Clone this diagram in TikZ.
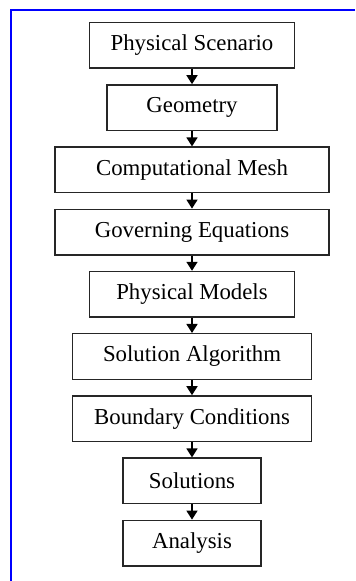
\documentclass[tikz,border=0pt]{standalone}
\usepackage{fontspec}
\setmainfont{Liberation Serif}
\usetikzlibrary{arrows.meta, positioning}

\begin{document}
\begin{tikzpicture}[
    node distance=7.6pt,
    every node/.style={font=\fontsize{11.4}{13}\selectfont},
    box/.style={rectangle, draw=black!85, line width=0.75pt,
                minimum height=22.75pt, inner sep=0pt, text centered},
    arr/.style={-{Triangle[width=5.5pt, length=4.5pt]}, line width=0.8pt},
]
\useasboundingbox (0,0) rectangle (177.5pt,-290.5pt);

% blue frame
\draw[blue, line width=1.1pt] (177.5pt,-5pt) -- (5.5pt,-5pt) -- (5.5pt,-290.5pt);

\node[box, minimum width=102.5pt] (scenario) at (96pt,-22.75pt) {Physical Scenario};
\node[box, minimum width=85pt, below=of scenario] (geometry) {Geometry};
\node[box, minimum width=137pt, below=of geometry] (mesh) {Computational Mesh};
\node[box, minimum width=137pt, below=of mesh] (equations) {Governing Equations};
\node[box, minimum width=102.5pt, below=of equations] (models) {Physical Models};
\node[box, minimum width=119.5pt, below=of models] (algorithm) {Solution Algorithm};
\node[box, minimum width=119.5pt, below=of algorithm] (boundary) {Boundary Conditions};
\node[box, minimum width=69pt, below=of boundary] (solutions) {Solutions};
\node[box, minimum width=69pt, below=of solutions] (analysis) {Analysis};

\draw[arr] (scenario)  -- (geometry);
\draw[arr] (geometry)  -- (mesh);
\draw[arr] (mesh)      -- (equations);
\draw[arr] (equations) -- (models);
\draw[arr] (models)    -- (algorithm);
\draw[arr] (algorithm) -- (boundary);
\draw[arr] (boundary)  -- (solutions);
\draw[arr] (solutions) -- (analysis);

\end{tikzpicture}
\end{document}
